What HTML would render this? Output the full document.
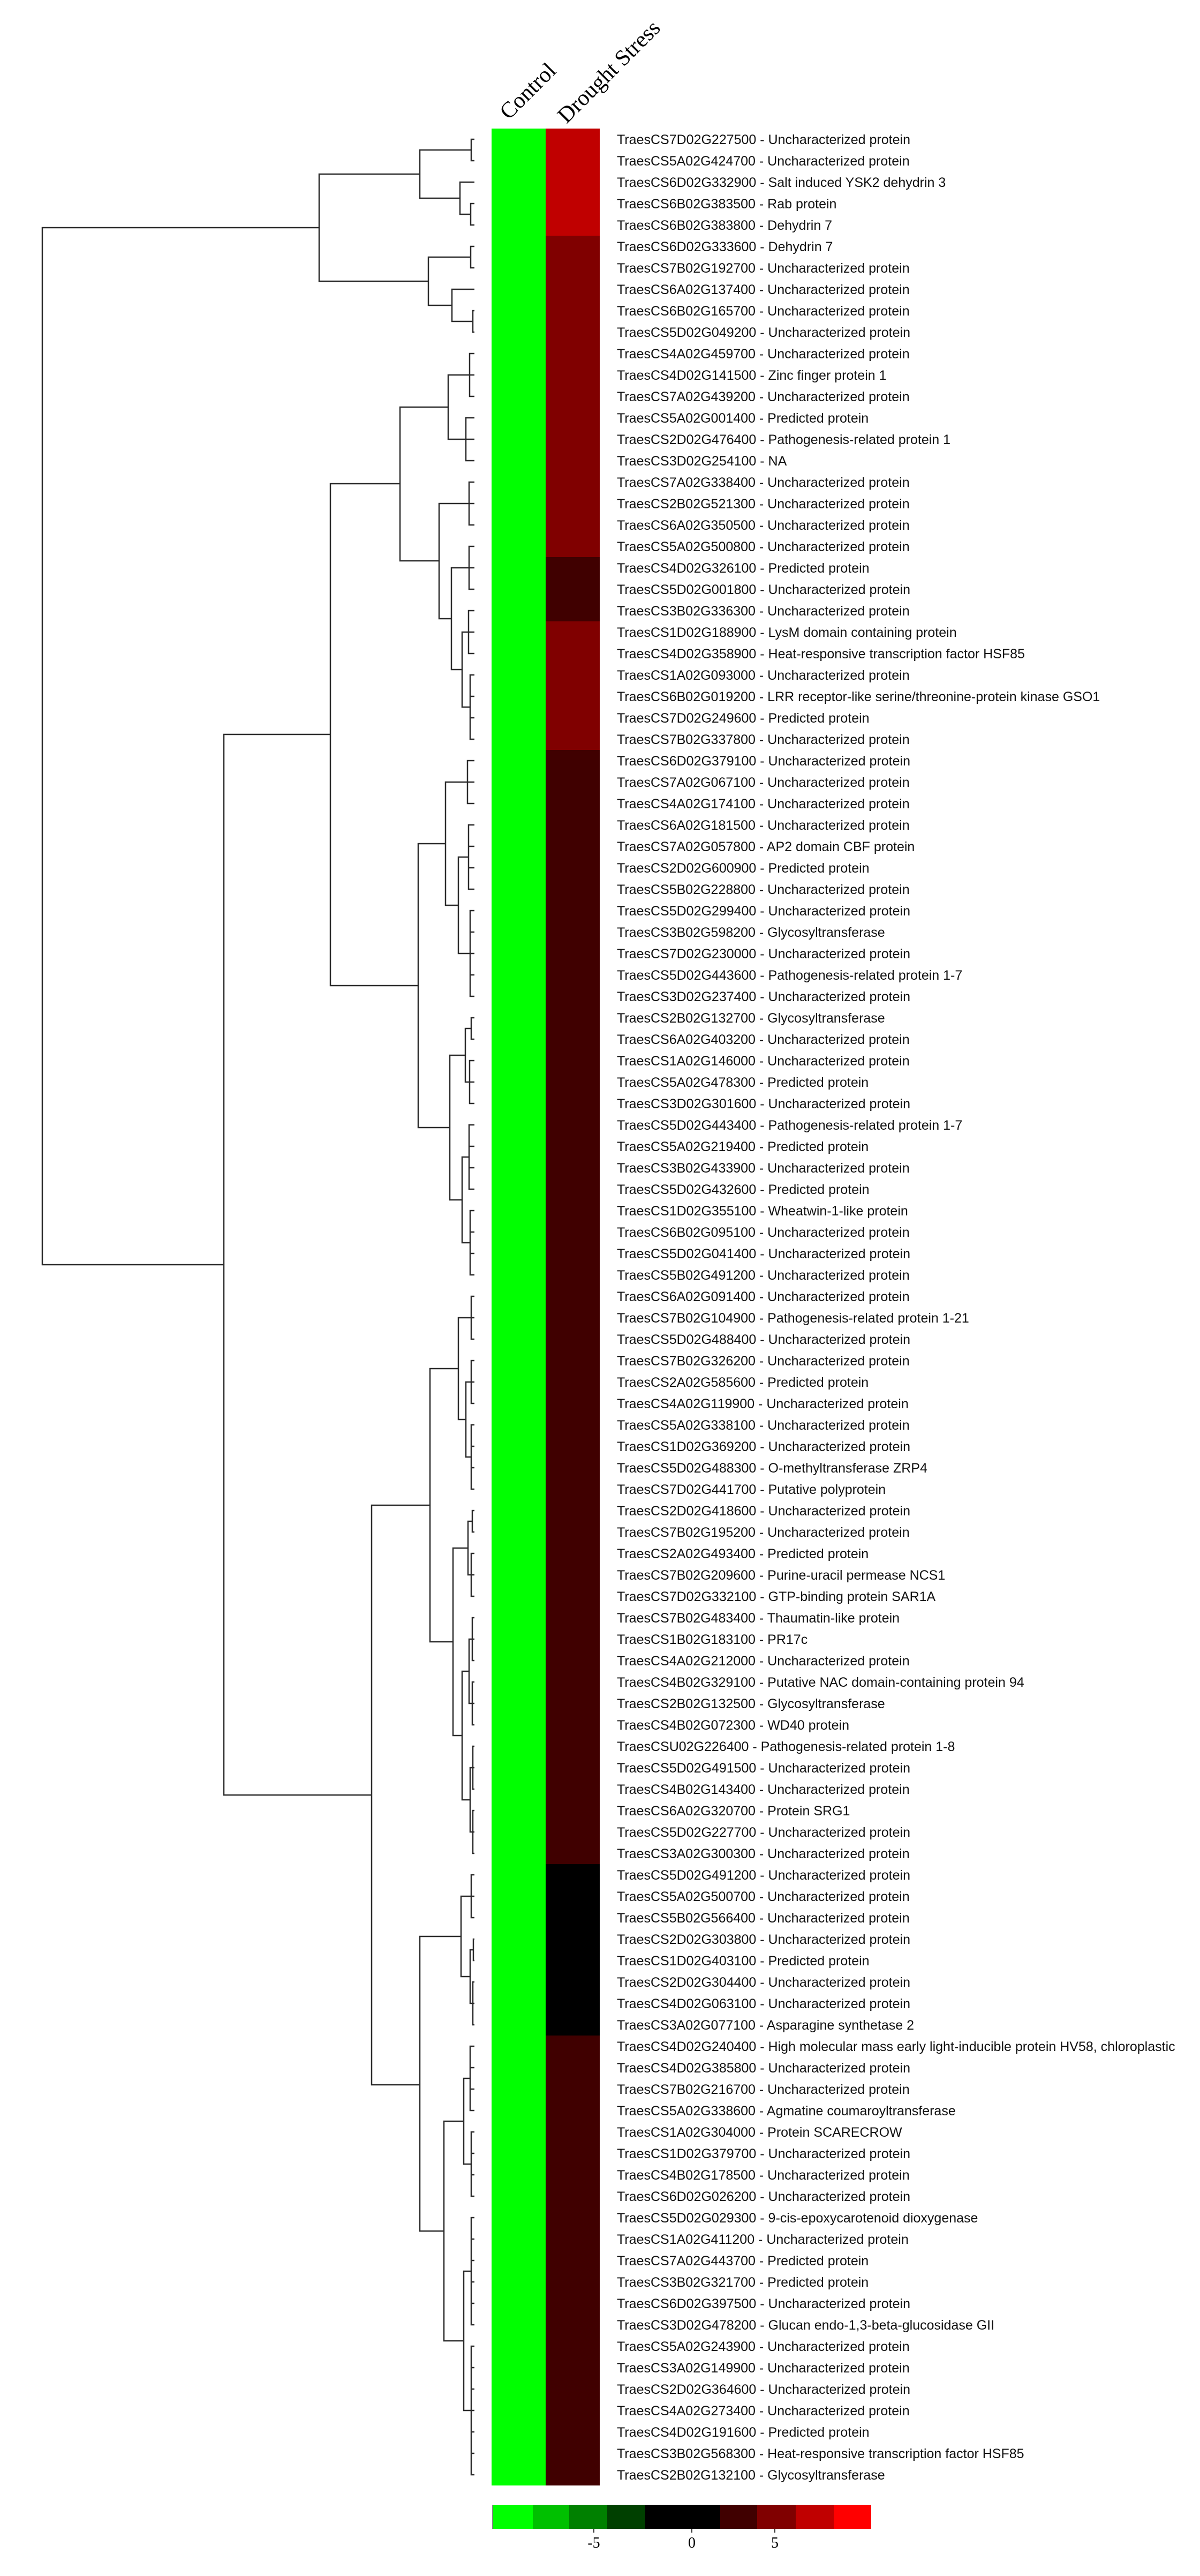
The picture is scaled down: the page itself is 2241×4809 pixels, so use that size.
<!DOCTYPE html>
<html><head><meta charset="utf-8"><style>
html,body{margin:0;padding:0;background:#fff}
svg{display:block}
.l{font-family:"Liberation Sans",Arial,sans-serif;font-size:25px;fill:#111}
.h{font-family:"Liberation Serif","Times New Roman",serif;font-size:42px;fill:#000}
.t{font-family:"Liberation Serif","Times New Roman",serif;font-size:28px;fill:#000}
</style></head><body>
<svg width="2241" height="4809" viewBox="0 0 2241 4809" xmlns="http://www.w3.org/2000/svg">
<rect width="2241" height="4809" fill="#fff"/>
<text class="h" transform="translate(950,225) rotate(-45)">Control</text>
<text class="h" transform="translate(1058,232) rotate(-45)">Drought Stress</text>
<rect x="918" y="240" width="101" height="4400" fill="#00ff00"/>
<rect x="1019" y="240" width="101" height="200" fill="#c00000"/>
<rect x="1019" y="440" width="101" height="600" fill="#800000"/>
<rect x="1019" y="1040" width="101" height="120" fill="#400000"/>
<rect x="1019" y="1160" width="101" height="240" fill="#800000"/>
<rect x="1019" y="1400" width="101" height="2080" fill="#400000"/>
<rect x="1019" y="3480" width="101" height="320" fill="#000000"/>
<rect x="1019" y="3800" width="101" height="840" fill="#400000"/>
<g fill="none" stroke="#2a2a2a" stroke-width="2.5">
<path d="M886 260H880V300H886 M886 340H859V400H879 M886 380H879V420H886 M880 280H784V370H859 M886 460H879V500H886 M886 580H883V620H886 M886 540H844V600H883 M879 480H800V570H844 M784 325H596V525H800 M596 425H79V2361H418"/>
<path d="M886 660H877V740H886 M877 700H886 M886 780H870V860H886 M870 820H886 M877 700H837V820H870 M886 900H876V980H886 M876 940H886 M886 1020H876V1100H886 M876 1060H886 M886 1140H875V1220H886 M875 1180H886 M886 1260H878V1380H886 M878 1300H886 M878 1340H886 M875 1180H863V1320H878 M876 1060H843V1250H863 M876 940H820V1155H843 M837 760H747V1047H820"/>
<path d="M886 1420H873V1500H886 M873 1460H886 M886 1540H875V1660H886 M875 1580H886 M875 1620H886 M886 1700H878V1860H886 M878 1740H886 M878 1780H886 M878 1820H886 M875 1600H856V1780H878 M873 1460H832V1690H856 M886 1900H880V1940H886 M886 1980H877V2060H886 M877 2020H886 M880 1920H869V2020H877 M886 2100H876V2220H886 M876 2140H886 M876 2180H886 M886 2260H878V2380H886 M878 2300H886 M878 2340H886 M876 2160H863V2320H878 M869 1970H840V2240H863 M832 1575H781V2105H840 M747 903H617V1840H781 M617 1371H418V3351H694"/>
<path d="M886 2420H880V2500H886 M880 2460H886 M886 2540H880V2620H886 M880 2580H886 M886 2660H880V2780H886 M880 2700H886 M880 2740H886 M880 2580H870V2720H880 M880 2460H856V2650H870 M886 2820H882V2860H886 M886 2900H880V2980H886 M880 2940H886 M882 2840H874V2940H880 M886 3020H882V3100H886 M882 3060H886 M886 3140H882V3220H886 M882 3180H886 M882 3060H876V3180H882 M886 3260H883V3340H886 M883 3300H886 M886 3380H883V3460H886 M883 3420H886 M883 3300H878V3420H883 M876 3120H863V3360H878 M874 2890H846V3240H863 M856 2555H803V3065H846 M803 2810H694V3892H784"/>
<path d="M886 3500H880V3580H886 M880 3540H886 M886 3620H884V3660H886 M886 3700H883V3780H886 M883 3740H886 M884 3640H878V3740H883 M880 3540H861V3690H878 M886 3820H878V3940H886 M878 3860H886 M878 3900H886 M886 3980H880V4100H886 M880 4020H886 M880 4060H886 M878 3880H866V4040H880 M886 4140H880V4340H886 M880 4180H886 M880 4220H886 M880 4260H886 M880 4300H886 M886 4380H880V4620H886 M880 4420H886 M880 4460H886 M880 4500H886 M880 4540H886 M880 4580H886 M880 4240H866V4500H880 M866 3960H829V4370H866 M861 3615H784V4165H829"/>
</g>
<g class="l">
<text x="1152" y="269">TraesCS7D02G227500 - Uncharacterized protein</text>
<text x="1152" y="309">TraesCS5A02G424700 - Uncharacterized protein</text>
<text x="1152" y="349">TraesCS6D02G332900 - Salt induced YSK2 dehydrin 3</text>
<text x="1152" y="389">TraesCS6B02G383500 - Rab protein</text>
<text x="1152" y="429">TraesCS6B02G383800 - Dehydrin 7</text>
<text x="1152" y="469">TraesCS6D02G333600 - Dehydrin 7</text>
<text x="1152" y="509">TraesCS7B02G192700 - Uncharacterized protein</text>
<text x="1152" y="549">TraesCS6A02G137400 - Uncharacterized protein</text>
<text x="1152" y="589">TraesCS6B02G165700 - Uncharacterized protein</text>
<text x="1152" y="629">TraesCS5D02G049200 - Uncharacterized protein</text>
<text x="1152" y="669">TraesCS4A02G459700 - Uncharacterized protein</text>
<text x="1152" y="709">TraesCS4D02G141500 - Zinc finger protein 1</text>
<text x="1152" y="749">TraesCS7A02G439200 - Uncharacterized protein</text>
<text x="1152" y="789">TraesCS5A02G001400 - Predicted protein</text>
<text x="1152" y="829">TraesCS2D02G476400 - Pathogenesis-related protein 1</text>
<text x="1152" y="869">TraesCS3D02G254100 - NA</text>
<text x="1152" y="909">TraesCS7A02G338400 - Uncharacterized protein</text>
<text x="1152" y="949">TraesCS2B02G521300 - Uncharacterized protein</text>
<text x="1152" y="989">TraesCS6A02G350500 - Uncharacterized protein</text>
<text x="1152" y="1029">TraesCS5A02G500800 - Uncharacterized protein</text>
<text x="1152" y="1069">TraesCS4D02G326100 - Predicted protein</text>
<text x="1152" y="1109">TraesCS5D02G001800 - Uncharacterized protein</text>
<text x="1152" y="1149">TraesCS3B02G336300 - Uncharacterized protein</text>
<text x="1152" y="1189">TraesCS1D02G188900 - LysM domain containing protein</text>
<text x="1152" y="1229">TraesCS4D02G358900 - Heat-responsive transcription factor HSF85</text>
<text x="1152" y="1269">TraesCS1A02G093000 - Uncharacterized protein</text>
<text x="1152" y="1309">TraesCS6B02G019200 - LRR receptor-like serine/threonine-protein kinase GSO1</text>
<text x="1152" y="1349">TraesCS7D02G249600 - Predicted protein</text>
<text x="1152" y="1389">TraesCS7B02G337800 - Uncharacterized protein</text>
<text x="1152" y="1429">TraesCS6D02G379100 - Uncharacterized protein</text>
<text x="1152" y="1469">TraesCS7A02G067100 - Uncharacterized protein</text>
<text x="1152" y="1509">TraesCS4A02G174100 - Uncharacterized protein</text>
<text x="1152" y="1549">TraesCS6A02G181500 - Uncharacterized protein</text>
<text x="1152" y="1589">TraesCS7A02G057800 - AP2 domain CBF protein</text>
<text x="1152" y="1629">TraesCS2D02G600900 - Predicted protein</text>
<text x="1152" y="1669">TraesCS5B02G228800 - Uncharacterized protein</text>
<text x="1152" y="1709">TraesCS5D02G299400 - Uncharacterized protein</text>
<text x="1152" y="1749">TraesCS3B02G598200 - Glycosyltransferase</text>
<text x="1152" y="1789">TraesCS7D02G230000 - Uncharacterized protein</text>
<text x="1152" y="1829">TraesCS5D02G443600 - Pathogenesis-related protein 1-7</text>
<text x="1152" y="1869">TraesCS3D02G237400 - Uncharacterized protein</text>
<text x="1152" y="1909">TraesCS2B02G132700 - Glycosyltransferase</text>
<text x="1152" y="1949">TraesCS6A02G403200 - Uncharacterized protein</text>
<text x="1152" y="1989">TraesCS1A02G146000 - Uncharacterized protein</text>
<text x="1152" y="2029">TraesCS5A02G478300 - Predicted protein</text>
<text x="1152" y="2069">TraesCS3D02G301600 - Uncharacterized protein</text>
<text x="1152" y="2109">TraesCS5D02G443400 - Pathogenesis-related protein 1-7</text>
<text x="1152" y="2149">TraesCS5A02G219400 - Predicted protein</text>
<text x="1152" y="2189">TraesCS3B02G433900 - Uncharacterized protein</text>
<text x="1152" y="2229">TraesCS5D02G432600 - Predicted protein</text>
<text x="1152" y="2269">TraesCS1D02G355100 - Wheatwin-1-like protein</text>
<text x="1152" y="2309">TraesCS6B02G095100 - Uncharacterized protein</text>
<text x="1152" y="2349">TraesCS5D02G041400 - Uncharacterized protein</text>
<text x="1152" y="2389">TraesCS5B02G491200 - Uncharacterized protein</text>
<text x="1152" y="2429">TraesCS6A02G091400 - Uncharacterized protein</text>
<text x="1152" y="2469">TraesCS7B02G104900 - Pathogenesis-related protein 1-21</text>
<text x="1152" y="2509">TraesCS5D02G488400 - Uncharacterized protein</text>
<text x="1152" y="2549">TraesCS7B02G326200 - Uncharacterized protein</text>
<text x="1152" y="2589">TraesCS2A02G585600 - Predicted protein</text>
<text x="1152" y="2629">TraesCS4A02G119900 - Uncharacterized protein</text>
<text x="1152" y="2669">TraesCS5A02G338100 - Uncharacterized protein</text>
<text x="1152" y="2709">TraesCS1D02G369200 - Uncharacterized protein</text>
<text x="1152" y="2749">TraesCS5D02G488300 - O-methyltransferase ZRP4</text>
<text x="1152" y="2789">TraesCS7D02G441700 - Putative polyprotein</text>
<text x="1152" y="2829">TraesCS2D02G418600 - Uncharacterized protein</text>
<text x="1152" y="2869">TraesCS7B02G195200 - Uncharacterized protein</text>
<text x="1152" y="2909">TraesCS2A02G493400 - Predicted protein</text>
<text x="1152" y="2949">TraesCS7B02G209600 - Purine-uracil permease NCS1</text>
<text x="1152" y="2989">TraesCS7D02G332100 - GTP-binding protein SAR1A</text>
<text x="1152" y="3029">TraesCS7B02G483400 - Thaumatin-like protein</text>
<text x="1152" y="3069">TraesCS1B02G183100 - PR17c</text>
<text x="1152" y="3109">TraesCS4A02G212000 - Uncharacterized protein</text>
<text x="1152" y="3149">TraesCS4B02G329100 - Putative NAC domain-containing protein 94</text>
<text x="1152" y="3189">TraesCS2B02G132500 - Glycosyltransferase</text>
<text x="1152" y="3229">TraesCS4B02G072300 - WD40 protein</text>
<text x="1152" y="3269">TraesCSU02G226400 - Pathogenesis-related protein 1-8</text>
<text x="1152" y="3309">TraesCS5D02G491500 - Uncharacterized protein</text>
<text x="1152" y="3349">TraesCS4B02G143400 - Uncharacterized protein</text>
<text x="1152" y="3389">TraesCS6A02G320700 - Protein SRG1</text>
<text x="1152" y="3429">TraesCS5D02G227700 - Uncharacterized protein</text>
<text x="1152" y="3469">TraesCS3A02G300300 - Uncharacterized protein</text>
<text x="1152" y="3509">TraesCS5D02G491200 - Uncharacterized protein</text>
<text x="1152" y="3549">TraesCS5A02G500700 - Uncharacterized protein</text>
<text x="1152" y="3589">TraesCS5B02G566400 - Uncharacterized protein</text>
<text x="1152" y="3629">TraesCS2D02G303800 - Uncharacterized protein</text>
<text x="1152" y="3669">TraesCS1D02G403100 - Predicted protein</text>
<text x="1152" y="3709">TraesCS2D02G304400 - Uncharacterized protein</text>
<text x="1152" y="3749">TraesCS4D02G063100 - Uncharacterized protein</text>
<text x="1152" y="3789">TraesCS3A02G077100 - Asparagine synthetase 2</text>
<text x="1152" y="3829">TraesCS4D02G240400 - High molecular mass early light-inducible protein HV58, chloroplastic</text>
<text x="1152" y="3869">TraesCS4D02G385800 - Uncharacterized protein</text>
<text x="1152" y="3909">TraesCS7B02G216700 - Uncharacterized protein</text>
<text x="1152" y="3949">TraesCS5A02G338600 - Agmatine coumaroyltransferase</text>
<text x="1152" y="3989">TraesCS1A02G304000 - Protein SCARECROW</text>
<text x="1152" y="4029">TraesCS1D02G379700 - Uncharacterized protein</text>
<text x="1152" y="4069">TraesCS4B02G178500 - Uncharacterized protein</text>
<text x="1152" y="4109">TraesCS6D02G026200 - Uncharacterized protein</text>
<text x="1152" y="4149">TraesCS5D02G029300 - 9-cis-epoxycarotenoid dioxygenase</text>
<text x="1152" y="4189">TraesCS1A02G411200 - Uncharacterized protein</text>
<text x="1152" y="4229">TraesCS7A02G443700 - Predicted protein</text>
<text x="1152" y="4269">TraesCS3B02G321700 - Predicted protein</text>
<text x="1152" y="4309">TraesCS6D02G397500 - Uncharacterized protein</text>
<text x="1152" y="4349">TraesCS3D02G478200 - Glucan endo-1,3-beta-glucosidase GII</text>
<text x="1152" y="4389">TraesCS5A02G243900 - Uncharacterized protein</text>
<text x="1152" y="4429">TraesCS3A02G149900 - Uncharacterized protein</text>
<text x="1152" y="4469">TraesCS2D02G364600 - Uncharacterized protein</text>
<text x="1152" y="4509">TraesCS4A02G273400 - Uncharacterized protein</text>
<text x="1152" y="4549">TraesCS4D02G191600 - Predicted protein</text>
<text x="1152" y="4589">TraesCS3B02G568300 - Heat-responsive transcription factor HSF85</text>
<text x="1152" y="4629">TraesCS2B02G132100 - Glycosyltransferase</text>
</g>
<g>
<rect x="920" y="4676" width="75" height="45" fill="#00ff00"/>
<rect x="995" y="4676" width="68" height="45" fill="#00c000"/>
<rect x="1063" y="4676" width="71" height="45" fill="#008000"/>
<rect x="1134" y="4676" width="71" height="45" fill="#004000"/>
<rect x="1205" y="4676" width="140" height="45" fill="#000000"/>
<rect x="1345" y="4676" width="69" height="45" fill="#400000"/>
<rect x="1414" y="4676" width="72" height="45" fill="#800000"/>
<rect x="1486" y="4676" width="71" height="45" fill="#c00000"/>
<rect x="1557" y="4676" width="70" height="45" fill="#ff0000"/>
<line x1="920" y1="4676" x2="920" y2="4721" stroke="#888" stroke-width="2"/>
<path d="M1109 4721V4728 M1292 4721V4728 M1447 4721V4728" stroke="#333" stroke-width="2"/>
<text class="t" x="1109" y="4756" text-anchor="middle">-5</text>
<text class="t" x="1292" y="4756" text-anchor="middle">0</text>
<text class="t" x="1447" y="4756" text-anchor="middle">5</text>
</g>
</svg>
</body></html>
